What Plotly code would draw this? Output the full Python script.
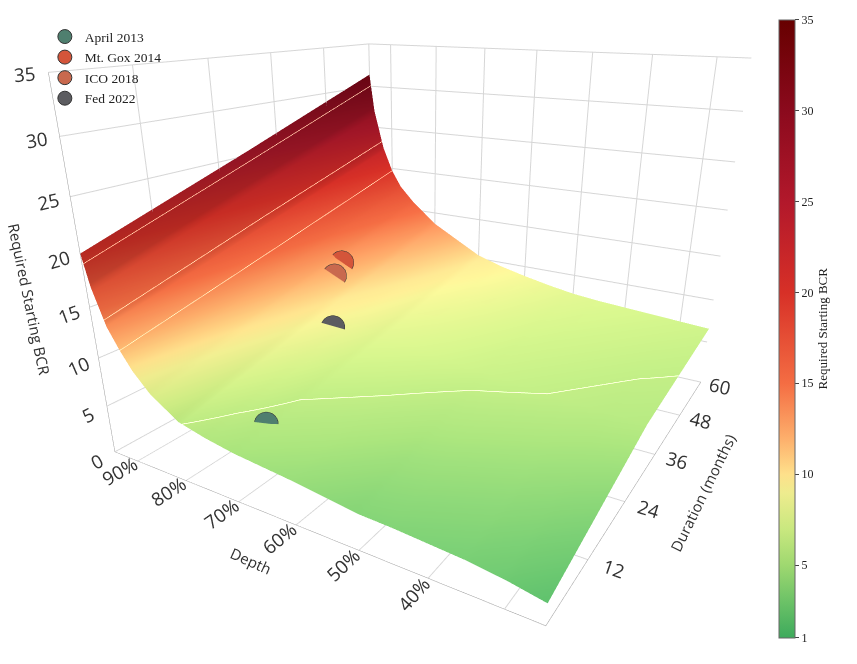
import plotly.graph_objects as go

# duration (months) and depth grid of the surface
durations = [1, 30, 60]
depths = [0.25, 0.30, 0.35, 0.40, 0.45, 0.50, 0.55, 0.60, 0.65, 0.70,
          0.75, 0.80, 0.85, 0.88, 0.90, 0.92, 0.94, 0.95]

# required starting BCR, one row per depth, one column per duration
bcr = [
    [2.0, 5.5, 6.6],
    [2.6, 5.6, 6.8],
    [3.0, 5.8, 7.0],
    [3.2, 6.0, 7.2],
    [3.4, 6.2, 7.4],
    [3.5, 6.4, 7.7],
    [3.9, 6.7, 8.2],
    [4.3, 7.0, 8.8],
    [4.6, 7.3, 9.5],
    [4.9, 7.6, 10.4],
    [5.4, 8.7, 12.0],
    [6.1, 9.9, 13.6],
    [8.0, 12.0, 16.0],
    [9.8, 13.8, 17.8],
    [11.5, 15.5, 19.7],
    [13.5, 18.0, 22.5],
    [17.0, 22.0, 27.0],
    [20.0, 25.5, 31.4],
]

# historical drawdowns
events = ['April 2013', 'Mt. Gox 2014', 'ICO 2018', 'Fed 2022']
event_depth = [0.705, 0.84, 0.83, 0.765]
event_duration = [7, 38, 35, 27]
event_bcr = [5.5, 12.6, 11.8, 8.6]
event_colors = ['#4f7f6f', '#d4553a', '#c9694e', '#5c5c60']

depth_ticks = [0.3, 0.4, 0.5, 0.6, 0.7, 0.8, 0.9]
depth_labels = ['', '40%', '50%', '60%', '70%', '80%', '90%']
duration_ticks = [12, 24, 36, 48, 60]
bcr_ticks = [0, 5, 10, 15, 20, 25, 30, 35]
cbar_ticks = [1, 5, 10, 15, 20, 25, 30, 35]

colorscale = [
    [0.0, '#3daa5c'], [0.059, '#6cc267'], [0.118, '#9fd870'],
    [0.176, '#c9e87f'], [0.235, '#eeec8e'], [0.265, '#fee08b'],
    [0.324, '#fdae6b'], [0.412, '#f46d43'], [0.559, '#d73027'],
    [0.706, '#b2182b'], [0.853, '#8b0a1d'], [1.0, '#670000'],
]

serif = 'Liberation Serif, Times New Roman, serif'
sans = 'Open Sans, sans-serif'

fig = go.Figure()
fig.add_trace(go.Surface(
    x=durations, y=depths, z=bcr,
    colorscale=colorscale, cmin=1, cmax=35,
    showlegend=False,
    contours=dict(
        y=dict(show=True, start=0.90, end=0.95, size=0.0235,
               color='rgba(255,215,165,0.75)', width=1),
        z=dict(show=True, start=6, end=6.5, size=10,
               color='rgba(255,255,240,0.8)', width=1),
    ),
    colorbar=dict(
        title=dict(text='Required Starting BCR', side='right',
                   font=dict(family=serif, size=13, color='#222')),
        tickvals=cbar_ticks, ticks='outside', ticklen=4,
        tickfont=dict(family=serif, size=12, color='#222'),
        thickness=16, len=0.93, y=0.517, yanchor='middle',
        x=0.90, xanchor='left', xpad=0, ypad=0,
        outlinewidth=1, outlinecolor='#666',
    ),
))

for name, d, t, b, c in zip(events, event_depth, event_duration,
                            event_bcr, event_colors):
    fig.add_trace(go.Scatter3d(
        x=[t], y=[d], z=[b], mode='markers', name=name,
        marker=dict(size=14, color=c, line=dict(color='#333', width=1)),
    ))


def axis_style(title, **kw):
    return dict(
        title=dict(text=title, font=dict(family=sans, size=15, color='#333')),
        showbackground=False, gridcolor='#d6d6d6', linecolor='#999',
        showline=True, zeroline=False,
        tickfont=dict(family=sans, size=15, color='#333'),
        **kw,
    )


fig.update_layout(
    width=857, height=664,
    margin=dict(l=0, r=0, t=0, b=0),
    paper_bgcolor='white',
    legend=dict(x=0.043, y=0.98, xanchor='left', yanchor='top',
                bgcolor='rgba(0,0,0,0)',
                font=dict(family=serif, size=13.5, color='#222')),
    scene=dict(
        domain=dict(x=[0, 0.96], y=[0, 1]),
        xaxis=axis_style('Duration (months)', range=[1, 60],
                         tickvals=duration_ticks),
        yaxis=axis_style('Depth', range=[0.25, 0.95],
                         tickvals=depth_ticks, ticktext=depth_labels),
        zaxis=axis_style('Required Starting BCR', range=[0, 35],
                         tickvals=bcr_ticks),
        aspectmode='manual', aspectratio=dict(x=1, y=1, z=0.78),
        camera=dict(eye=dict(x=-1.435, y=-0.835, z=0.52),
                    center=dict(x=-0.015, y=0.025, z=-0.2)),
    ),
)

fig.write_html("out.html")
